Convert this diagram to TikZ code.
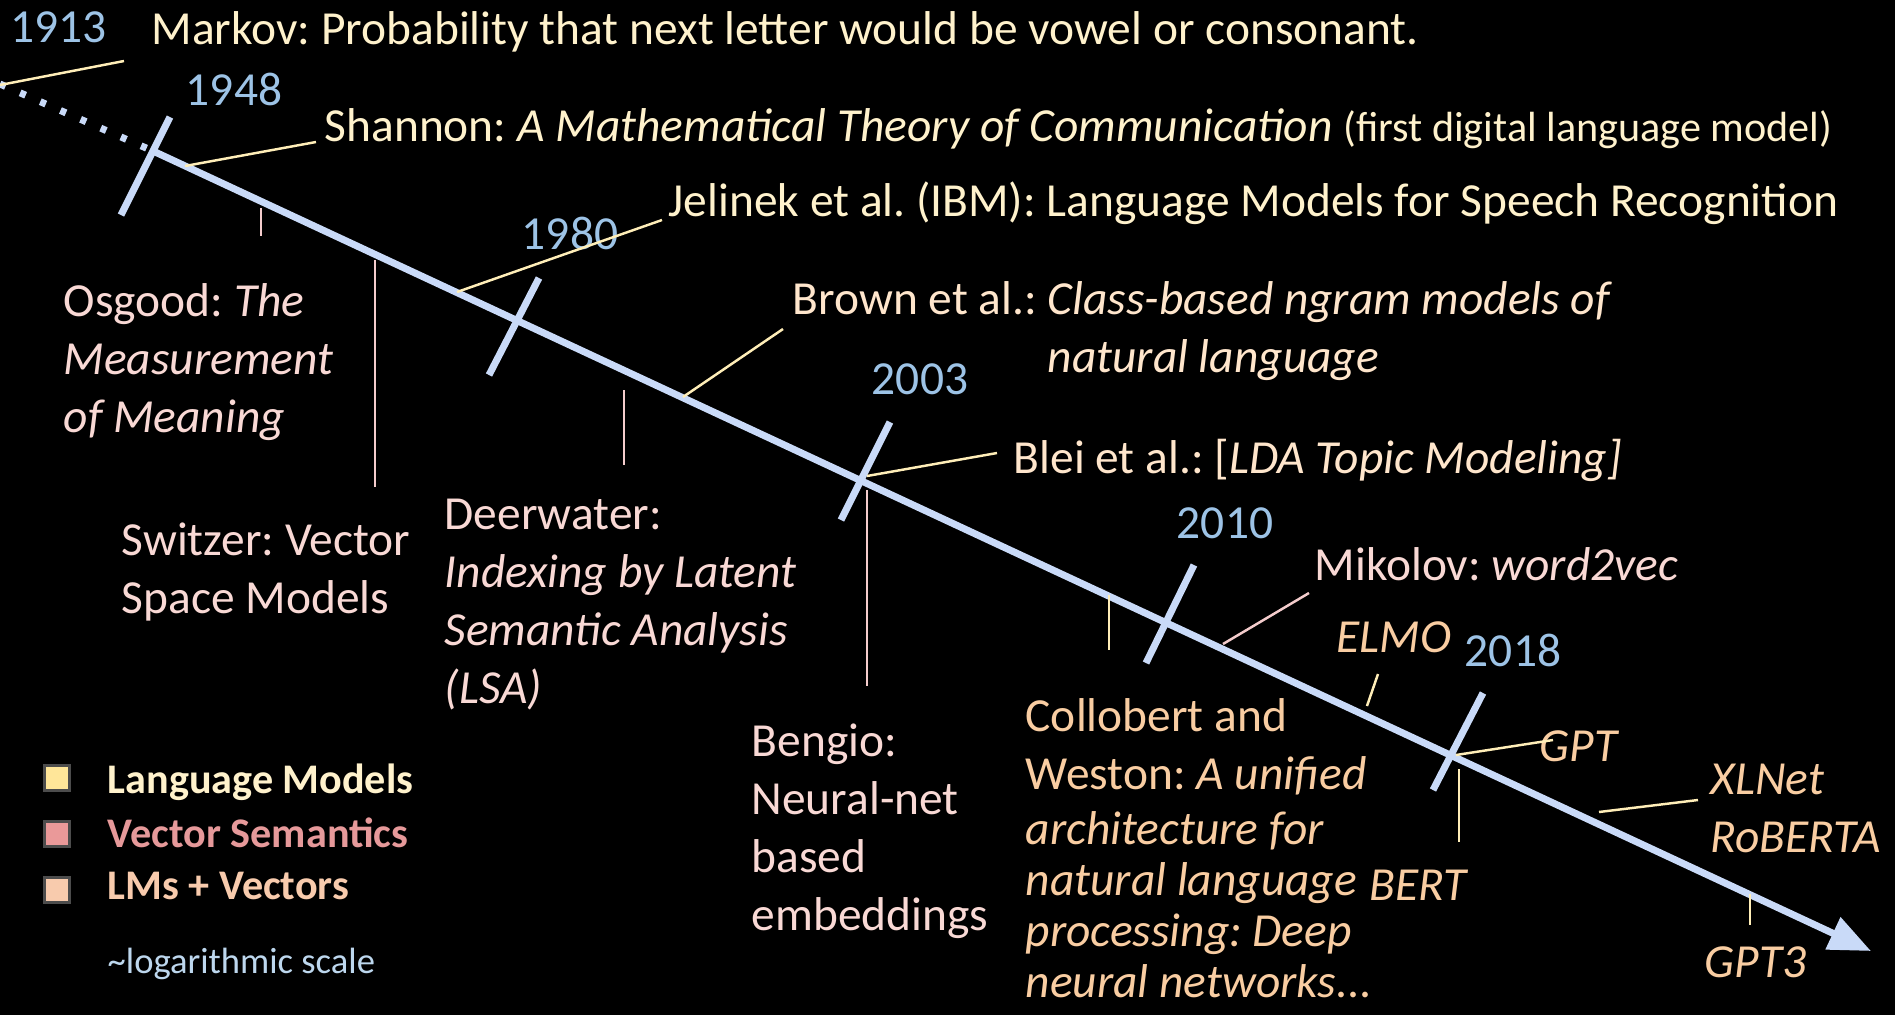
\documentclass[tikz,border=0pt]{standalone}
\usepackage{fontspec}
\setmainfont{Carlito}
\frenchspacing
\usetikzlibrary{arrows.meta}
\definecolor{yearblue}{HTML}{9DC3E6}
\definecolor{axisblue}{HTML}{C9DAF8}
\definecolor{lmcream}{HTML}{FFF2CC}
\definecolor{lmpeach}{HTML}{FFE6CC}
\definecolor{vspink}{HTML}{F9D9D5}
\definecolor{lvorange}{HTML}{F9CDA2}
\definecolor{leadcream}{HTML}{FFEEB8}
\definecolor{leadpink}{HTML}{F4CCCC}
\definecolor{legyellow}{HTML}{FFE699}
\definecolor{legpink}{HTML}{EA9999}
\definecolor{legpeach}{HTML}{F8CBAD}
\definecolor{legpinktext}{HTML}{E6999A}
\definecolor{scaleblue}{HTML}{BDD7EE}
\newcommand{\evfont}{\fontsize{13.5}{16.5}\selectfont}
\newcommand{\tightfont}{\fontsize{13.5}{14.5}\selectfont}
\newcommand{\smallfont}{\fontsize{12}{14}\selectfont}

\begin{document}
\begin{tikzpicture}[
    year/.style={text=yearblue,font=\evfont,inner sep=0pt,anchor=base},
    ev/.style={font=\evfont,align=left,inner sep=0pt,anchor=base west},
    lmlead/.style={leadcream,line width=0.7pt},
    vslead/.style={leadpink,line width=0.7pt},
    timeline/.style={axisblue,line width=0.07cm},
    legbox/.style={draw=black!70,line width=0.6pt,minimum size=0.25cm,inner sep=0pt},
    legtext/.style={font=\smallfont\bfseries,inner sep=0pt,anchor=base west}]
  \fill[black] (0,0) rectangle (18.95,-10.15);
  \useasboundingbox (0,0) rectangle (18.95,-10.15);

  \coordinate (old)   at (0,-0.84);
  \coordinate (start) at (1.53,-1.51);
  \coordinate (tip)   at (18.71,-9.51);
  \draw[timeline,dash pattern=on 0.06cm off 0.16cm] (old) -- (start);
  \draw[timeline,-{Triangle[length=0.42cm,width=0.34cm]}] (start) -- (tip);
  \foreach \xa/\ya/\xb/\yb in {1.21/-2.15/1.70/-1.17, 4.89/-3.75/5.39/-2.78,
      8.41/-5.20/8.90/-4.22, 11.46/-6.63/11.94/-5.65, 14.33/-7.90/14.83/-6.93}
    \draw[timeline] (\xa,\ya) -- (\xb,\yb);

  \node[year,anchor=base west] (y1913) at (0.10,-0.42) {1913};
  \node[year] (y1948) at (2.34,-1.05) {1948};
  \node[year] (y1980) at (5.70,-2.49) {1980};
  \node[year] (y2003) at (9.20,-3.94) {2003};
  \node[year] (y2010) at (12.25,-5.38) {2010};
  \node[year] (y2018) at (15.13,-6.66) {2018};

  % multi-line texts are placed by the baseline of their last line
  \node[ev,text=lmcream] (markov) at (1.51,-0.44)
    {Markov: Probability that next letter would be vowel or consonant.};
  \node[ev,text=lmcream] (shannon) at (3.24,-1.41)
    {Shannon: \textit{A Mathematical Theory of Communication} {\smallfont(first digital language model)}};
  \node[ev,text=lmcream] (jelinek) at (6.68,-2.16)
    {Jelinek et al. (IBM): Language Models for Speech Recognition};
  \node[ev,text=lmpeach] (brown) at (7.92,-3.72)
    {Brown et al.: \textit{Class-based ngram models of}\\
     \hphantom{Brown et al.: }\textit{natural language}};
  \node[ev,text=lmpeach] (blei) at (10.13,-4.73)
    {Blei et al.: [\textit{LDA Topic Modeling]}};

  \node[ev,text=vspink] (osgood) at (0.63,-4.32)
    {Osgood: \textit{The}\\\textit{Measurement}\\\textit{of Meaning}};
  \node[ev,text=vspink] (switzer) at (1.21,-6.13)
    {Switzer: Vector\\Space Models};
  \node[ev,text=vspink] (deerwater) at (4.44,-7.03)
    {Deerwater:\\\textit{Indexing by Latent}\\\textit{Semantic Analysis}\\\textit{(LSA)}};
  \node[ev,text=vspink] (bengio) at (7.51,-9.30)
    {Bengio:\\Neural-net\\based\\embeddings};
  \node[ev,text=vspink] (mikolov) at (13.14,-5.80)
    {Mikolov: \textit{word2vec}};

  \node[ev,text=lvorange,font=\tightfont] (collobert) at (10.25,-9.97)
    {Collobert and\\[2pt]Weston: \textit{A unified}\\[1pt]\textit{architecture for}\\
     \textit{natural language}\\\textit{processing: Deep}\\\textit{neural networks...}};
  \node[ev,text=lvorange] (elmo) at (13.36,-6.52) {\textit{ELMO}};
  \node[ev,text=lvorange] (gpt) at (15.39,-7.61) {\textit{GPT}};
  \node[ev,text=lvorange] (bert) at (13.69,-9.00) {\textit{BERT}};
  \node[ev,text=lvorange] (xlnet) at (17.10,-8.52) {\textit{XLNet}\\\textit{RoBERTA}};
  \node[ev,text=lvorange] (gptiii) at (17.04,-9.77) {\textit{GPT3}};

  \coordinate (mk1) at (0,-0.85);     \coordinate (mk2) at (1.24,-0.61);
  \coordinate (sh1) at (1.85,-1.66);  \coordinate (sh2) at (3.16,-1.42);
  \coordinate (je1) at (4.57,-2.92);  \coordinate (je2) at (6.62,-2.20);
  \coordinate (br1) at (6.83,-3.97);  \coordinate (br2) at (7.83,-3.29);
  \coordinate (bl1) at (8.67,-4.76);  \coordinate (bl2) at (9.97,-4.53);
  \coordinate (os1) at (2.61,-2.08);  \coordinate (os2) at (2.61,-2.36);
  \coordinate (sw1) at (3.75,-2.60);  \coordinate (sw2) at (3.75,-4.87);
  \coordinate (de1) at (6.24,-3.90);  \coordinate (de2) at (6.24,-4.65);
  \coordinate (be1) at (8.67,-4.90);  \coordinate (be2) at (8.67,-6.86);
  \coordinate (mi1) at (12.23,-6.44); \coordinate (mi2) at (13.09,-5.93);
  \coordinate (co1) at (11.09,-5.95); \coordinate (co2) at (11.09,-6.50);
  \coordinate (el1) at (13.67,-7.06); \coordinate (el2) at (13.78,-6.74);
  \coordinate (gp1) at (14.56,-7.55); \coordinate (gp2) at (15.53,-7.40);
  \coordinate (bt1) at (14.59,-7.69); \coordinate (bt2) at (14.59,-8.42);
  \coordinate (xl1) at (15.99,-8.12); \coordinate (xl2) at (16.98,-8.00);
  \coordinate (g31) at (17.50,-8.94); \coordinate (g32) at (17.50,-9.25);

  \draw[lmlead] (mk1) -- (mk2);
  \draw[lmlead] (sh1) -- (sh2);
  \draw[lmlead] (je1) -- (je2);
  \draw[lmlead] (br1) -- (br2);
  \draw[lmlead] (bl1) -- (bl2);
  \draw[vslead] (os1) -- (os2);
  \draw[vslead] (sw1) -- (sw2);
  \draw[vslead] (de1) -- (de2);
  \draw[vslead] (be1) -- (be2);
  \draw[vslead] (mi1) -- (mi2);
  \draw[lmlead] (co1) -- (co2);
  \draw[lmlead] (el1) -- (el2);
  \draw[lmlead] (gp1) -- (gp2);
  \draw[lmlead] (bt1) -- (bt2);
  \draw[lmlead] (xl1) -- (xl2);
  \draw[lmlead] (g31) -- (g32);

  \node[legbox,fill=legyellow] (k1) at (0.57,-7.78) {};
  \node[legbox,fill=legpink]   (k2) at (0.57,-8.34) {};
  \node[legbox,fill=legpeach]  (k3) at (0.57,-8.90) {};
  \node[legtext,text=lmcream]     (t1) at (1.07,-7.93) {Language Models};
  \node[legtext,text=legpinktext] (t2) at (1.07,-8.47) {Vector Semantics};
  \node[legtext,text=legpeach]    (t3) at (1.07,-8.99) {LMs + Vectors};
  \node[inner sep=0pt,anchor=base west,text=scaleblue,font=\fontsize{10.4}{12}\selectfont]
    (scale) at (1.07,-9.73) {\textasciitilde logarithmic scale};
\end{tikzpicture}
\end{document}
